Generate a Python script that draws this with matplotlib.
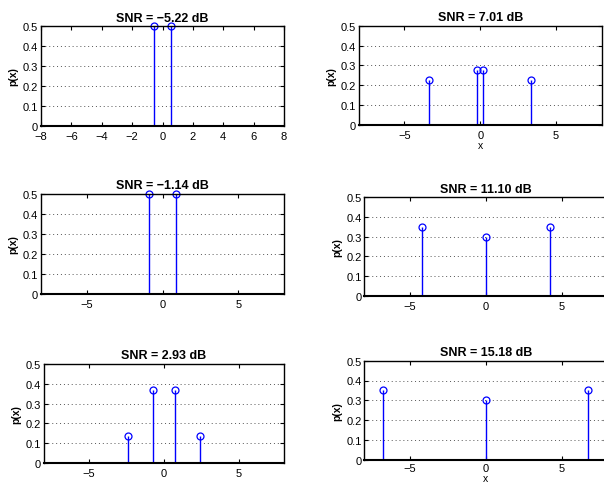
import matplotlib.pyplot as plt

plt.rcParams['font.family'] = ['Liberation Sans', 'DejaVu Sans']

# === DATA ===
titles = ['SNR = −5.22 dB', 'SNR = 7.01 dB',
          'SNR = −1.14 dB', 'SNR = 11.10 dB',
          'SNR = 2.93 dB', 'SNR = 15.18 dB']
x_vals = [
    [-0.55, 0.55],
    [-3.35, -0.18, 0.18, 3.35],
    [-0.88, 0.88],
    [-4.2, 0.0, 4.2],
    [-2.4, -0.75, 0.75, 2.4],
    [-6.75, 0.0, 6.75],
]
p_vals = [
    [0.5, 0.5],
    [0.225, 0.275, 0.275, 0.225],
    [0.5, 0.5],
    [0.35, 0.30, 0.35],
    [0.135, 0.367, 0.367, 0.135],
    [0.35, 0.30, 0.35],
]
xticks_first = [-8, -6, -4, -2, 0, 2, 4, 6, 8]
xticks_rest = [-5, 0, 5]
yticks = [0, 0.1, 0.2, 0.3, 0.4, 0.5]
ytick_labels = ['0', '0.1', '0.2', '0.3', '0.4', '0.5']
show_xlabel = [False, True, False, False, False, True]

# axes rectangles in pixels: left, top, width, height
W, H = 604, 485
rects_px = [
    (41, 27.3, 243, 99.4),
    (358.7, 26.7, 243, 99.3),
    (41, 195, 243, 100),
    (364.3, 198.3, 243, 98.4),
    (44, 365, 240, 99),
    (364.3, 361.7, 243, 99),
]

fig = plt.figure(figsize=(W / 100, H / 100), dpi=100)

for i in range(6):
    l, t, w, h = rects_px[i]
    ax = fig.add_axes([l / W, 1 - (t + h) / H, w / W, h / H])
    ml, sl, bl = ax.stem(x_vals[i], p_vals[i], basefmt=' ')
    plt.setp(sl, color='#0000ff', linewidth=1.0)
    plt.setp(ml, markerfacecolor='none', markeredgecolor='#0000ff',
             markersize=5, markeredgewidth=0.9)
    ml.set_clip_on(False)
    ax.set_xlim(-8, 8)
    ax.set_ylim(0, 0.5)
    ax.set_xticks(xticks_first if i == 0 else xticks_rest)
    ax.set_yticks(yticks)
    ax.set_yticklabels(ytick_labels)
    ax.yaxis.grid(True, linestyle=(0, (1, 3)), color='#555555', linewidth=0.7)
    ax.set_axisbelow(True)
    ax.tick_params(direction='in', length=3, width=0.8, labelsize=8,
                   top=True, right=True)
    ax.tick_params(axis='y', pad=2)
    ax.tick_params(axis='x', pad=2.5 if i == 5 else 3.5)
    for s in ax.spines.values():
        s.set_linewidth(1.0)
    ax.spines['bottom'].set_linewidth(1.5)
    ax.set_title(titles[i], fontsize=9, fontweight='bold', pad=4)
    ax.set_ylabel('p(x)', fontsize=7.5, fontweight='bold', labelpad=3)
    if show_xlabel[i]:
        ax.set_xlabel('x', fontsize=7.5, labelpad=0)

fig.savefig('out.png', dpi=100)
